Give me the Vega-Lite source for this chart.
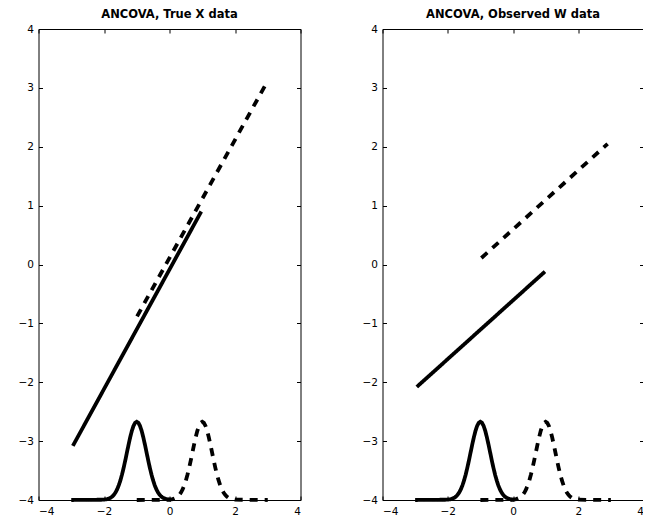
{
  "$schema": "https://vega.github.io/schema/vega-lite/v6.json",
  "padding": {"left": 17.5, "top": 8, "right": -2, "bottom": 0},
  "bounds": "flush",
  "spacing": 82,
  "config": {
    "view": {"stroke": "black", "strokeWidth": 1},
    "axis": {
      "domain": false,
      "grid": false,
      "ticks": true,
      "tickSize": -4,
      "tickColor": "black",
      "tickWidth": 1,
      "labelFont": "DejaVu Sans",
      "labelFontSize": 10.5,
      "labelColor": "black",
      "title": null
    },
    "title": {"font": "DejaVu Sans", "fontSize": 11.5, "fontWeight": "bold", "color": "black", "offset": 4}
  },
  "datasets": {
    "fits": [
      {"panel": "true", "group": "g1", "style": "solid", "x": -2.95, "y": -3.08},
      {"panel": "true", "group": "g1", "style": "solid", "x": 0.97, "y": 0.9},
      {"panel": "true", "group": "g2", "style": "dashed", "x": -0.99, "y": -0.88},
      {"panel": "true", "group": "g2", "style": "dashed", "x": 2.93, "y": 3.05},
      {"panel": "obs", "group": "g1", "style": "solid", "x": -2.95, "y": -2.08},
      {"panel": "obs", "group": "g1", "style": "solid", "x": 0.98, "y": -0.12},
      {"panel": "obs", "group": "g2", "style": "dashed", "x": -0.97, "y": 0.11},
      {"panel": "obs", "group": "g2", "style": "dashed", "x": 2.9, "y": 2.05}
    ],
    "density": [
      {"group": "g1", "style": "solid", "x": -3.0, "y": -4.0},
      {"group": "g1", "style": "solid", "x": -2.0, "y": -3.995},
      {"group": "g1", "style": "solid", "x": -1.9, "y": -3.985},
      {"group": "g1", "style": "solid", "x": -1.8, "y": -3.962},
      {"group": "g1", "style": "solid", "x": -1.75, "y": -3.942},
      {"group": "g1", "style": "solid", "x": -1.7, "y": -3.913},
      {"group": "g1", "style": "solid", "x": -1.65, "y": -3.873},
      {"group": "g1", "style": "solid", "x": -1.6, "y": -3.82},
      {"group": "g1", "style": "solid", "x": -1.55, "y": -3.752},
      {"group": "g1", "style": "solid", "x": -1.5, "y": -3.668},
      {"group": "g1", "style": "solid", "x": -1.45, "y": -3.568},
      {"group": "g1", "style": "solid", "x": -1.4, "y": -3.453},
      {"group": "g1", "style": "solid", "x": -1.35, "y": -3.327},
      {"group": "g1", "style": "solid", "x": -1.3, "y": -3.193},
      {"group": "g1", "style": "solid", "x": -1.25, "y": -3.06},
      {"group": "g1", "style": "solid", "x": -1.2, "y": -2.935},
      {"group": "g1", "style": "solid", "x": -1.15, "y": -2.826},
      {"group": "g1", "style": "solid", "x": -1.1, "y": -2.742},
      {"group": "g1", "style": "solid", "x": -1.05, "y": -2.689},
      {"group": "g1", "style": "solid", "x": -1.0, "y": -2.67},
      {"group": "g1", "style": "solid", "x": -0.95, "y": -2.689},
      {"group": "g1", "style": "solid", "x": -0.9, "y": -2.742},
      {"group": "g1", "style": "solid", "x": -0.85, "y": -2.826},
      {"group": "g1", "style": "solid", "x": -0.8, "y": -2.935},
      {"group": "g1", "style": "solid", "x": -0.75, "y": -3.06},
      {"group": "g1", "style": "solid", "x": -0.7, "y": -3.193},
      {"group": "g1", "style": "solid", "x": -0.65, "y": -3.327},
      {"group": "g1", "style": "solid", "x": -0.6, "y": -3.453},
      {"group": "g1", "style": "solid", "x": -0.55, "y": -3.568},
      {"group": "g1", "style": "solid", "x": -0.5, "y": -3.668},
      {"group": "g1", "style": "solid", "x": -0.45, "y": -3.752},
      {"group": "g1", "style": "solid", "x": -0.4, "y": -3.82},
      {"group": "g1", "style": "solid", "x": -0.35, "y": -3.873},
      {"group": "g1", "style": "solid", "x": -0.3, "y": -3.913},
      {"group": "g1", "style": "solid", "x": -0.25, "y": -3.942},
      {"group": "g1", "style": "solid", "x": -0.2, "y": -3.962},
      {"group": "g1", "style": "solid", "x": -0.1, "y": -3.985},
      {"group": "g1", "style": "solid", "x": 0.0, "y": -3.995},
      {"group": "g1", "style": "solid", "x": 0.05, "y": -3.997},
      {"group": "g2", "style": "dashed", "x": -1.0, "y": -4.0},
      {"group": "g2", "style": "dashed", "x": 0.0, "y": -3.995},
      {"group": "g2", "style": "dashed", "x": 0.1, "y": -3.985},
      {"group": "g2", "style": "dashed", "x": 0.2, "y": -3.962},
      {"group": "g2", "style": "dashed", "x": 0.25, "y": -3.942},
      {"group": "g2", "style": "dashed", "x": 0.3, "y": -3.913},
      {"group": "g2", "style": "dashed", "x": 0.35, "y": -3.873},
      {"group": "g2", "style": "dashed", "x": 0.4, "y": -3.82},
      {"group": "g2", "style": "dashed", "x": 0.45, "y": -3.752},
      {"group": "g2", "style": "dashed", "x": 0.5, "y": -3.668},
      {"group": "g2", "style": "dashed", "x": 0.55, "y": -3.568},
      {"group": "g2", "style": "dashed", "x": 0.6, "y": -3.453},
      {"group": "g2", "style": "dashed", "x": 0.65, "y": -3.327},
      {"group": "g2", "style": "dashed", "x": 0.7, "y": -3.193},
      {"group": "g2", "style": "dashed", "x": 0.75, "y": -3.06},
      {"group": "g2", "style": "dashed", "x": 0.8, "y": -2.935},
      {"group": "g2", "style": "dashed", "x": 0.85, "y": -2.826},
      {"group": "g2", "style": "dashed", "x": 0.9, "y": -2.742},
      {"group": "g2", "style": "dashed", "x": 0.95, "y": -2.689},
      {"group": "g2", "style": "dashed", "x": 1.0, "y": -2.67},
      {"group": "g2", "style": "dashed", "x": 1.05, "y": -2.689},
      {"group": "g2", "style": "dashed", "x": 1.1, "y": -2.742},
      {"group": "g2", "style": "dashed", "x": 1.15, "y": -2.826},
      {"group": "g2", "style": "dashed", "x": 1.2, "y": -2.935},
      {"group": "g2", "style": "dashed", "x": 1.25, "y": -3.06},
      {"group": "g2", "style": "dashed", "x": 1.3, "y": -3.193},
      {"group": "g2", "style": "dashed", "x": 1.35, "y": -3.327},
      {"group": "g2", "style": "dashed", "x": 1.4, "y": -3.453},
      {"group": "g2", "style": "dashed", "x": 1.45, "y": -3.568},
      {"group": "g2", "style": "dashed", "x": 1.5, "y": -3.668},
      {"group": "g2", "style": "dashed", "x": 1.55, "y": -3.752},
      {"group": "g2", "style": "dashed", "x": 1.6, "y": -3.82},
      {"group": "g2", "style": "dashed", "x": 1.65, "y": -3.873},
      {"group": "g2", "style": "dashed", "x": 1.7, "y": -3.913},
      {"group": "g2", "style": "dashed", "x": 1.75, "y": -3.942},
      {"group": "g2", "style": "dashed", "x": 1.8, "y": -3.962},
      {"group": "g2", "style": "dashed", "x": 1.9, "y": -3.985},
      {"group": "g2", "style": "dashed", "x": 2.0, "y": -3.995},
      {"group": "g2", "style": "dashed", "x": 3.0, "y": -4.0}
    ]
  },
  "hconcat": [
    {
      "title": "ANCOVA, True X data",
      "width": 262,
      "height": 471,
      "resolve": {"axis": {"x": "independent", "y": "independent"}},
      "layer": [
        {
          "data": {"name": "fits"},
          "transform": [{"filter": "datum.panel == 'true'"}],
          "mark": {"type": "line", "color": "black", "strokeWidth": 3.8},
          "encoding": {
            "x": {"field": "x", "type": "quantitative", "scale": {"domain": [-4, 4], "nice": false},
                  "axis": {"orient": "bottom", "values": [-4, -2, 0, 2, 4], "labelPadding": 10}},
            "y": {"field": "y", "type": "quantitative", "scale": {"domain": [-4, 4], "nice": false},
                  "axis": {"orient": "left", "values": [-4, -3, -2, -1, 0, 1, 2, 3, 4], "labelPadding": 9}},
            "detail": {"field": "group"},
            "strokeDash": {"field": "style", "type": "nominal",
                           "scale": {"domain": ["solid", "dashed"], "range": [[1, 0], [8, 7]]}, "legend": null}
          }
        },
        {
          "data": {"name": "density"},
          "mark": {"type": "line", "color": "black", "strokeWidth": 3.8},
          "encoding": {
            "x": {"field": "x", "type": "quantitative", "axis": null},
            "y": {"field": "y", "type": "quantitative", "axis": null},
            "detail": {"field": "group"},
            "strokeDash": {"field": "style", "type": "nominal", "legend": null}
          }
        },
        {
          "data": {"name": "density"},
          "mark": {"type": "point", "opacity": 0},
          "encoding": {
            "x": {"field": "x", "type": "quantitative",
                  "axis": {"orient": "top", "values": [-4, -2, 0, 2, 4], "labels": false}},
            "y": {"field": "y", "type": "quantitative",
                  "axis": {"orient": "right", "values": [-4, -3, -2, -1, 0, 1, 2, 3, 4], "labels": false}}
          }
        }
      ]
    },
    {
      "title": "ANCOVA, Observed W data",
      "width": 261,
      "height": 471,
      "resolve": {"axis": {"x": "independent", "y": "independent"}},
      "layer": [
        {
          "data": {"name": "fits"},
          "transform": [{"filter": "datum.panel == 'obs'"}],
          "mark": {"type": "line", "color": "black", "strokeWidth": 3.8},
          "encoding": {
            "x": {"field": "x", "type": "quantitative", "scale": {"domain": [-4, 4], "nice": false},
                  "axis": {"orient": "bottom", "values": [-4, -2, 0, 2, 4], "labelPadding": 10}},
            "y": {"field": "y", "type": "quantitative", "scale": {"domain": [-4, 4], "nice": false},
                  "axis": {"orient": "left", "values": [-4, -3, -2, -1, 0, 1, 2, 3, 4], "labelPadding": 9}},
            "detail": {"field": "group"},
            "strokeDash": {"field": "style", "type": "nominal",
                           "scale": {"domain": ["solid", "dashed"], "range": [[1, 0], [8, 7]]}, "legend": null}
          }
        },
        {
          "data": {"name": "density"},
          "mark": {"type": "line", "color": "black", "strokeWidth": 3.8},
          "encoding": {
            "x": {"field": "x", "type": "quantitative", "axis": null},
            "y": {"field": "y", "type": "quantitative", "axis": null},
            "detail": {"field": "group"},
            "strokeDash": {"field": "style", "type": "nominal", "legend": null}
          }
        },
        {
          "data": {"name": "density"},
          "mark": {"type": "point", "opacity": 0},
          "encoding": {
            "x": {"field": "x", "type": "quantitative",
                  "axis": {"orient": "top", "values": [-4, -2, 0, 2, 4], "labels": false}},
            "y": {"field": "y", "type": "quantitative",
                  "axis": {"orient": "right", "values": [-4, -3, -2, -1, 0, 1, 2, 3, 4], "labels": false}}
          }
        }
      ]
    }
  ]
}
